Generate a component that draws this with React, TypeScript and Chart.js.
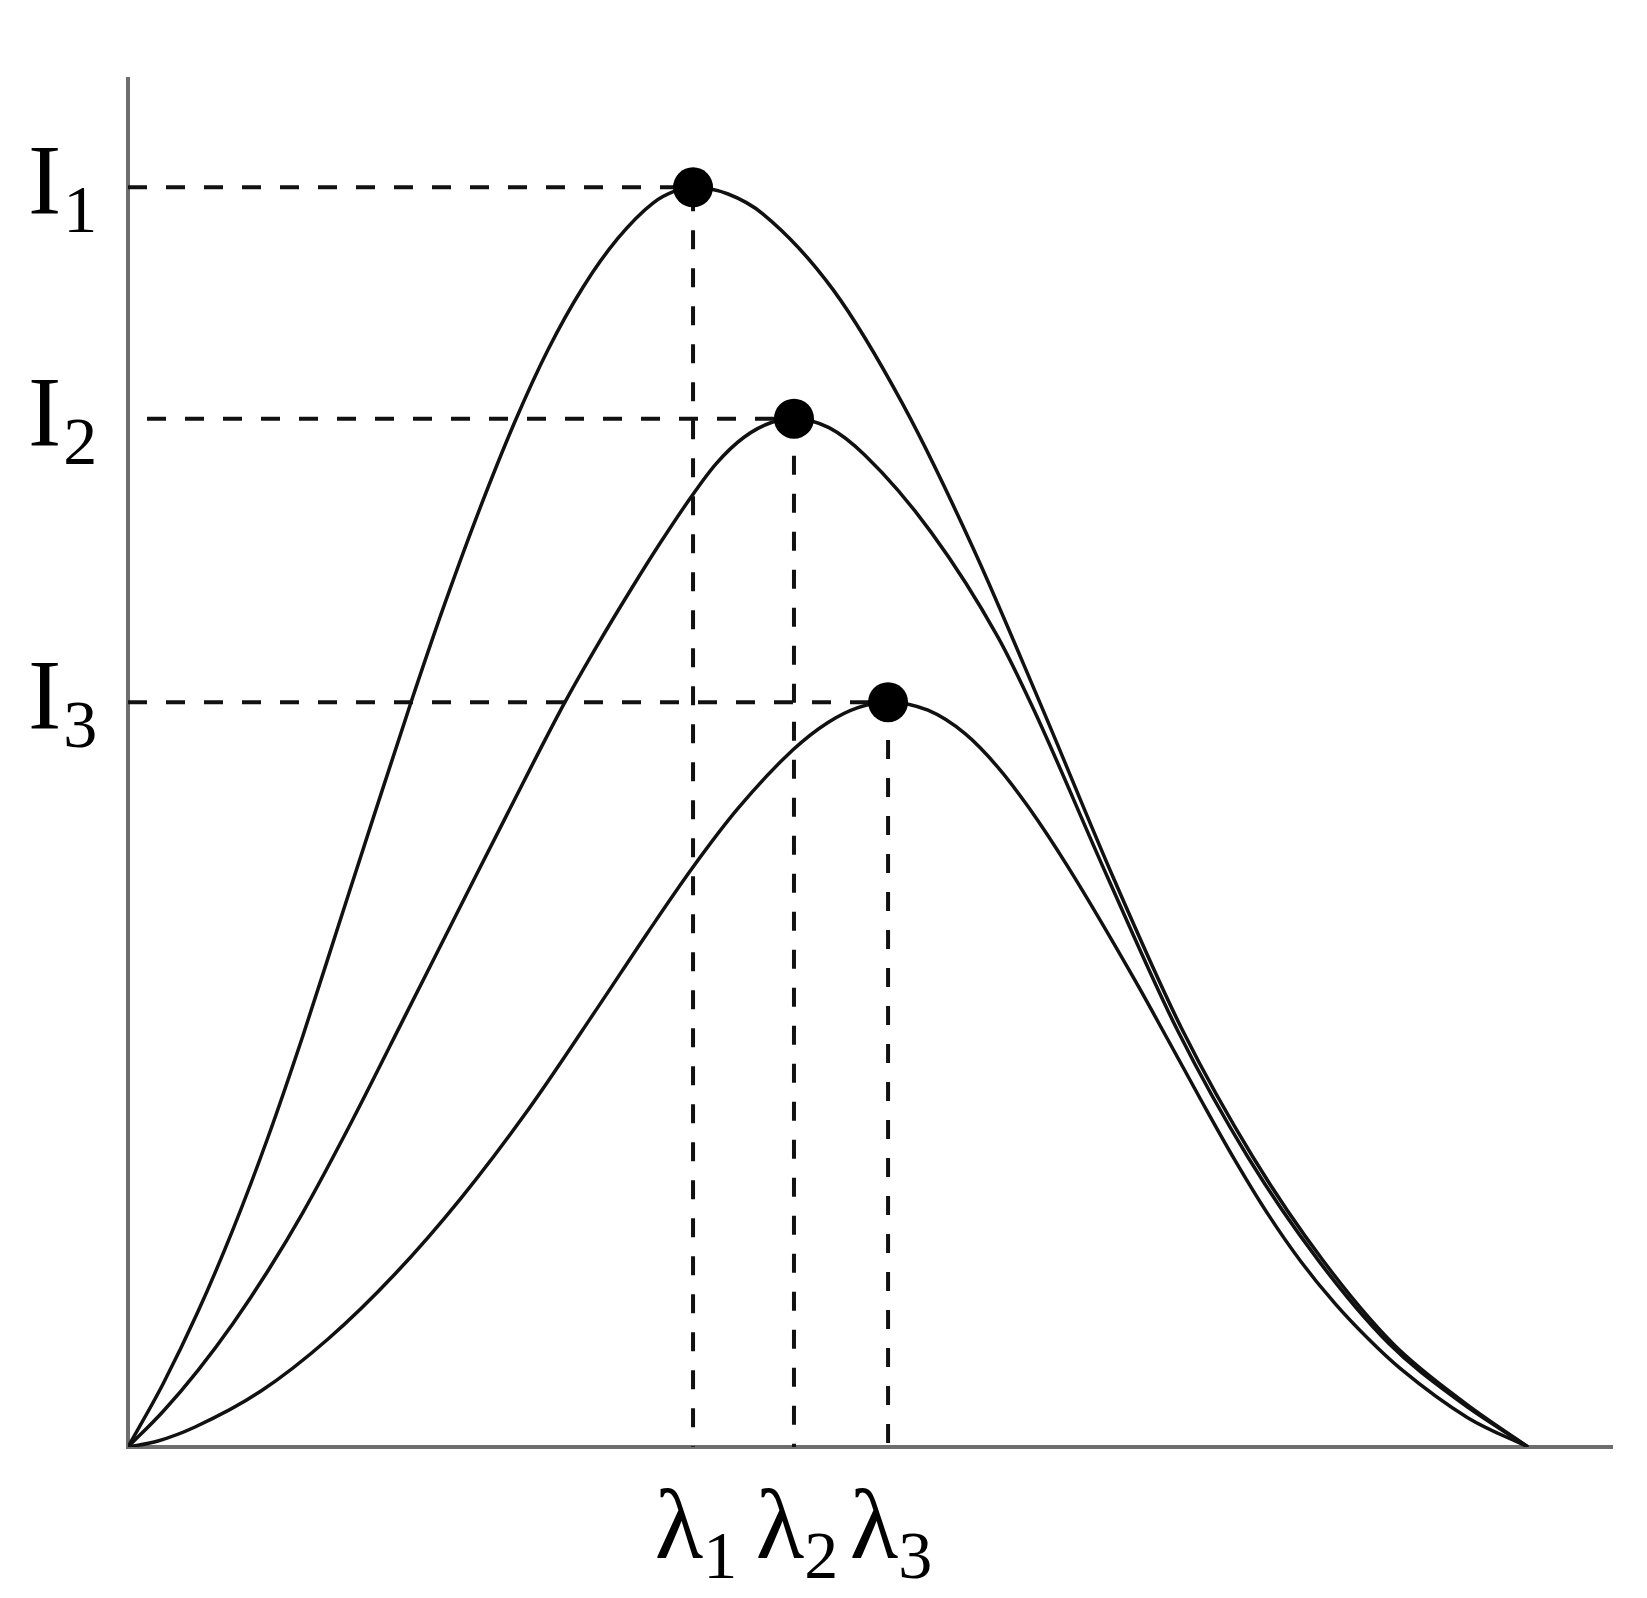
import React, { useEffect, useRef } from "react";
import { Chart, registerables } from "chart.js";

Chart.register(...registerables);

// Wavelength (arbitrary units, all curves end at 10) and intensity values
const curve1X = [0, 0.25, 0.5, 0.75, 1.0, 1.25, 1.5, 1.757, 2.021, 2.25, 2.5, 2.764, 3.0, 3.25, 3.5, 3.75, 3.9, 4.036, 4.286, 4.536, 5.036, 5.536, 6.036, 6.536, 7.036, 7.536, 8.036, 8.536, 9.036, 9.536, 10];
const curve1Y = [0, 0.5, 1.075, 1.728, 2.459, 3.267, 4.128, 5.012, 5.91, 6.655, 7.412, 8.141, 8.711, 9.207, 9.596, 9.875, 9.967, 10, 9.947, 9.788, 9.188, 8.275, 7.137, 5.85, 4.525, 3.3, 2.3, 1.48, 0.82, 0.36, 0];

const curve2X = [0, 0.25, 0.5, 0.75, 1.0, 1.25, 1.6, 2.0, 2.4, 2.704, 3.121, 3.35, 3.6, 3.8, 4.021, 4.2, 4.4, 4.6, 4.757, 5.007, 5.264, 5.736, 6.214, 6.471, 6.996, 7.5, 8.0, 8.504, 9.008, 9.514, 10];
const curve2Y = [0, 0.282, 0.609, 0.981, 1.399, 1.863, 2.588, 3.468, 4.348, 5.014, 5.913, 6.36, 6.821, 7.174, 7.54, 7.805, 8.016, 8.135, 8.163, 8.092, 7.873, 7.263, 6.429, 5.85, 4.525, 3.3, 2.3, 1.48, 0.82, 0.36, 0];

const curve3X = [0, 0.214, 0.479, 0.95, 1.429, 1.907, 2.379, 2.857, 3.357, 3.714, 4.036, 4.357, 4.75, 5.0, 5.214, 5.429, 5.714, 5.979, 6.214, 6.429, 6.714, 7.189, 7.429, 7.669, 7.899, 8.139, 8.379, 8.619, 8.859, 9.089, 9.569, 10];
const curve3Y = [0, 0.048, 0.159, 0.444, 0.857, 1.373, 1.976, 2.675, 3.492, 4.087, 4.604, 5.069, 5.535, 5.752, 5.87, 5.913, 5.849, 5.663, 5.396, 5.084, 4.605, 3.712, 3.231, 2.745, 2.292, 1.855, 1.471, 1.142, 0.859, 0.622, 0.233, 0];

// Peak positions (λ1, λ2, λ3) and peak intensities (I1, I2, I3)
const peakLambda = [4.036, 4.757, 5.429];
const peakIntensity = [10, 8.163, 5.913];

// Tick labels: main symbol + subscript
const yLabelMain = "I";
const xLabelMain = "λ";
const labelSubs = ["1", "2", "3"];

// Axis ranges
const xMax = 10.6;
const yMax = 10.86;

const MAIN_FONT = "100px 'Liberation Serif', 'Times New Roman', serif";
const SUB_FONT = "68px 'Liberation Serif', 'Times New Roman', serif";

const zip = (xs: number[], ys: number[]) => xs.map((x, i) => ({ x, y: ys[i] }));

const labelPlugin = {
  id: "subscriptLabels",
  afterDraw(chart: any) {
    const { ctx, chartArea } = chart;
    const xs = chart.scales.x;
    const ys = chart.scales.y;
    ctx.save();
    ctx.fillStyle = "#000";
    ctx.textBaseline = "alphabetic";
    ctx.textAlign = "left";
    peakIntensity.forEach((v, i) => {
      const py = ys.getPixelForValue(v);
      const left = chartArea.left - 100;
      ctx.font = MAIN_FONT;
      ctx.fillText(yLabelMain, left, py + 26);
      const w = ctx.measureText(yLabelMain).width;
      ctx.font = SUB_FONT;
      ctx.fillText(labelSubs[i], left + w + 2, py + 45);
    });
    peakLambda.forEach((v, i) => {
      const px = xs.getPixelForValue(v);
      ctx.font = MAIN_FONT;
      const w1 = ctx.measureText(xLabelMain).width;
      ctx.font = SUB_FONT;
      const w2 = ctx.measureText(labelSubs[i]).width;
      const start = px - (w1 + w2) / 2 + 3;
      ctx.font = MAIN_FONT;
      ctx.fillText(xLabelMain, start, chartArea.bottom + 111);
      ctx.font = SUB_FONT;
      ctx.fillText(labelSubs[i], start + w1, chartArea.bottom + 131);
    });
    ctx.restore();
  },
};

export default function App() {
  const canvasRef = useRef<HTMLCanvasElement | null>(null);

  useEffect(() => {
    const canvas = canvasRef.current;
    if (!canvas) return;

    const curveStyle = {
      borderColor: "#111",
      borderWidth: 3.5,
      pointRadius: 0,
      fill: false,
      cubicInterpolationMode: "monotone" as const,
      order: 1,
    };

    const guideSets = peakLambda.map((lx, i) => ({
      label: "guide" + (i + 1),
      data: [
        { x: 0, y: peakIntensity[i] },
        { x: lx, y: peakIntensity[i] },
        { x: lx, y: 0 },
      ],
      borderColor: "#111",
      borderWidth: 4,
      borderDash: [19, 19],
      borderDashOffset: i === 1 ? 19 : 0,
      pointRadius: 0,
      tension: 0,
      fill: false,
      order: 2,
    }));

    const chart = new Chart(canvas, {
      type: "line",
      data: {
        datasets: [
          ...guideSets,
          { label: "T1", data: zip(curve1X, curve1Y), ...curveStyle },
          { label: "T2", data: zip(curve2X, curve2Y), ...curveStyle },
          { label: "T3", data: zip(curve3X, curve3Y), ...curveStyle },
          {
            label: "peaks",
            data: zip(peakLambda, peakIntensity),
            showLine: false,
            pointRadius: 20,
            pointBackgroundColor: "#000",
            pointBorderColor: "#000",
            pointBorderWidth: 0,
            order: 0,
          },
        ],
      },
      options: {
        animation: false,
        responsive: false,
        events: [],
        layout: { padding: { left: 128, top: 79, right: 35, bottom: 151 } },
        plugins: {
          legend: { display: false },
          tooltip: { enabled: false },
          title: { display: false },
        },
        scales: {
          x: {
            type: "linear",
            min: 0,
            max: xMax,
            ticks: { display: false },
            grid: { display: false, drawTicks: false },
            border: { display: true, color: "#6e6e6e", width: 4 },
          },
          y: {
            type: "linear",
            min: 0,
            max: yMax,
            ticks: { display: false },
            grid: { display: false, drawTicks: false },
            border: { display: true, color: "#6e6e6e", width: 4 },
          },
        },
      },
      plugins: [labelPlugin],
    });

    return () => chart.destroy();
  }, []);

  return (
    <div style={{ position: "absolute", left: 0, top: 0, width: 1647, height: 1598, background: "#fff" }}>
      <canvas ref={canvasRef} width={1647} height={1598} style={{ display: "block", width: 1647, height: 1598 }} />
    </div>
  );
}
